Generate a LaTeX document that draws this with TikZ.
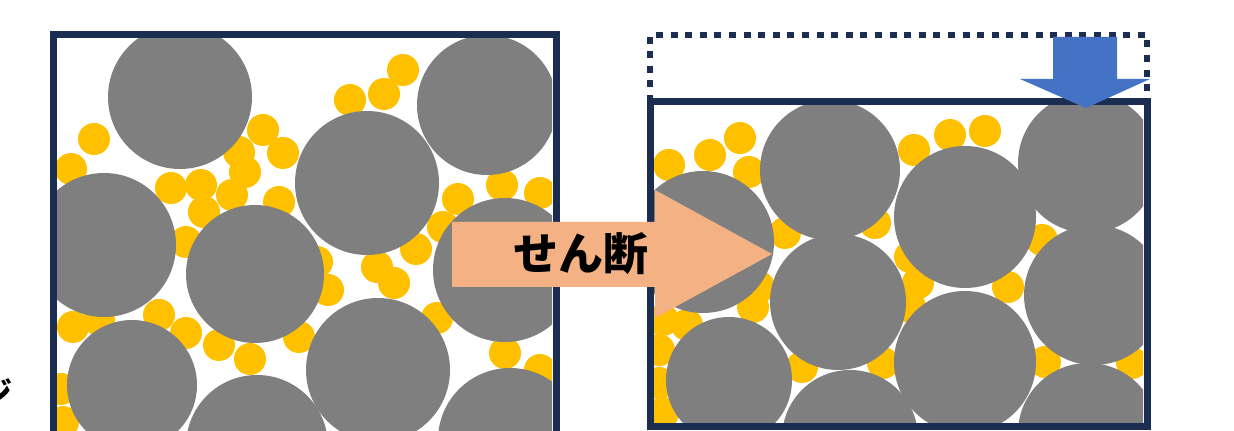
\documentclass[tikz,border=0pt]{standalone}
\usepackage{fontspec}
\newfontfamily\jpfont{Noto Sans CJK JP}
\definecolor{navy}{HTML}{1C2D52}
\definecolor{grain}{HTML}{7F7F7F}
\definecolor{fines}{HTML}{FFC000}
\definecolor{shearcol}{HTML}{F4B183}
\definecolor{presscol}{HTML}{4472C4}

\begin{document}
\begin{tikzpicture}[x=0.5pt, y=-0.5pt,
    frame/.style={draw=navy, line width=3.5pt},
    grain/.style={fill=grain},
    fine/.style={fill=fines}]
  \useasboundingbox (0,0) rectangle (1234,431);

  % loose packing, left
  \begin{scope}
    \clip (57,39) rectangle (552,440);
    \foreach \x/\y in {403/70, 384/94, 350/100, 94/139, 71/169, 263/130, 283/153,
        239/152, 245/172, 171/188, 201/185, 232/195, 204/212, 279/202, 186/242,
        317/262, 328/290, 377/267, 394/283, 416/249, 443/227, 458/199, 502/185,
        540/193, 437/318, 159/315, 186/333, 219/345, 250/359, 299/337, 73/327,
        99/320, 61/389, 63/422, 505/353, 540/370}
      \fill[fine] (\x,\y) circle (16);
    \foreach \x/\y/\r in {180/97/72, 104/245/72, 255/274/69, 367/183/72,
        487/105/70, 505/270/72, 132/385/65, 257/446/71, 378/370/72, 510/440/72}
      \fill[grain] (\x,\y) circle (\r);
  \end{scope}
  \draw[frame] (53,445) -- (53,35) -- (556,35) -- (556,445);

  % dense packing after shearing, right
  \begin{scope}
    \clip (654,106) rectangle (1143,423);
    \foreach \x/\y in {669/165, 710/155, 740/138, 749/172, 914/150, 950/135,
        985/131, 875/223, 785/233, 1042/240, 910/257, 759/287, 753/307,
        1008/287, 918/283, 910/307, 663/320, 687/325, 659/350, 659/383,
        663/413, 802/367, 883/363, 1045/362, 1132/363}
      \fill[fine] (\x,\y) circle (16);
    \foreach \x/\y/\r in {703/242/71, 830/170/70, 965/217/71, 1088/163/70,
        1094/295/70, 838/302/68, 729/380/63, 850/438/68, 965/362/71, 1088/433/70}
      \fill[grain] (\x,\y) circle (\r);
  \end{scope}
  \draw[frame] (650,102) rectangle (1147,427);
  % former height
  \draw[navy, line width=3pt, dash pattern=on 3.5pt off 3.8pt]
    (650,102) -- (650,35) -- (1147,35) -- (1147,102);

  % shear arrow
  \fill[shearcol] (452,222) -- (655,222) -- (655,190) -- (772,254)
    -- (655,318) -- (655,287) -- (452,287) -- cycle;
  \node (shear) at (581,254) {\jpfont\bfseries\fontsize{22.5}{27}\selectfont せん断};

  % compression arrow
  \fill[presscol] (1053,37) -- (1117,37) -- (1117,79) -- (1150,79)
    -- (1086,108) -- (1020,79) -- (1053,79) -- cycle;

  \node[anchor=east, inner sep=0pt] (side) at (13,392)
    {\jpfont\bfseries\fontsize{15}{18}\selectfont ジ};
\end{tikzpicture}
\end{document}
